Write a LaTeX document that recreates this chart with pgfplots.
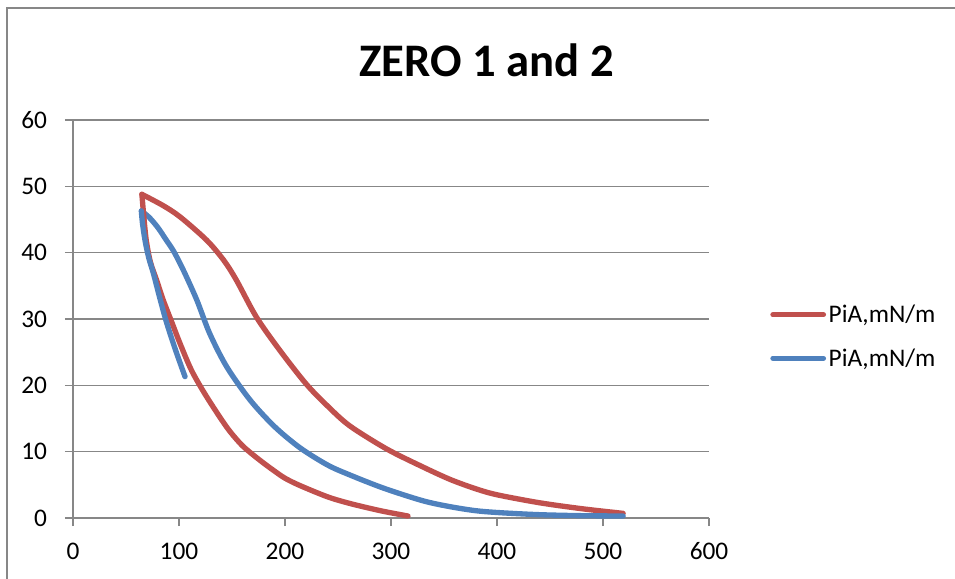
\documentclass[border=0pt]{standalone}
\usepackage{pgfplots}
\pgfplotsset{compat=1.18}
\usepackage{fontspec}
\setmainfont{Carlito}
\definecolor{cred}{HTML}{C0504D}
\definecolor{cblue}{HTML}{4F81BD}
\definecolor{cgrid}{HTML}{878787}
\begin{document}
\begin{tikzpicture}
\path[use as bounding box] (0,0) rectangle (716.25pt,433.5pt);
\draw[cgrid, line width=1.6pt] (5.25pt,-10pt) -- (5.25pt,427.5pt) -- (730pt,427.5pt);
\node[font=\fontsize{35}{40}\selectfont\bfseries] at (365pt,388pt) {ZERO 1 and 2};
\begin{axis}[
  at={(54.75pt,45pt)}, anchor=south west,
  width=477pt, height=298.5pt, scale only axis,
  xmin=0, xmax=600, ymin=0, ymax=60,
  xtick={0,100,...,600}, ytick={0,10,...,60},
  axis lines*=left,
  axis line style={cgrid, line width=1.1pt},
  ymajorgrids, grid style={cgrid, line width=1.1pt},
  tick style={cgrid, line width=1.1pt},
  tick align=outside, major tick length=6pt,
  ticklabel style={font=\fontsize{19}{23}\selectfont},
  xticklabel style={yshift=-9pt},
  yticklabel style={xshift=-10pt},
  /pgf/number format/assume math mode=true,
  legend style={at={(1.096,0.456)}, anchor=west, draw=none, fill=none,
    font=\fontsize{19}{23}\selectfont, row sep=14pt, inner sep=0pt},
  legend cell align=left,
  legend image code/.code={\draw[#1, line width=3.8pt, line cap=round] (0pt,0pt) -- (38pt,0pt);},
  every axis plot/.append style={line width=4pt, line cap=round, line join=round},
]
\addplot[cred, smooth, tension=0.5] coordinates {
(519,0.7) (480,1.4) (440,2.3) (400,3.5) (380,4.4) (356,5.8) (330,7.7)
(296,10.4) (261,13.9) (240,16.9) (220,20.2) (195,25.3) (173,30.3) (154,35.9) (142,38.9)
(126,41.9) (101,45.4) (85,47.1) (65,48.8)
};
\addlegendentry{PiA,mN/m}
\addplot[cblue, smooth, tension=0.5] coordinates {
(519,0.3) (480,0.35) (440,0.5) (403,0.8) (380,1.1) (356,1.7) (330,2.6) (293,4.5)
(261,6.5) (240,8.0) (214,10.6) (190,13.8) (167,17.8) (145,22.8) (129,27.8) (116.7,32.9)
(104,37.4) (95,40.2) (88,41.9) (80,43.8) (72,45.3) (64.5,46.3)
};
\addlegendentry{PiA,mN/m}
\addplot[cred, smooth, tension=0.5, forget plot] coordinates {
(65,48.8) (66.5,46) (69,42) (73,38.6) (79,35.8) (85,32.9) (93,29.6) (101,26.3) (112,22.2) (126,18.3)
(145,13.7) (158,11.2) (167,9.9) (178,8.5) (189,7.2) (200,6.0) (214,4.9) (240,3.2)
(261,2.2) (290,1.1) (316,0.3)
};
\addplot[cblue, smooth, tension=0.5, forget plot] coordinates {
(64.5,46.3) (65.5,44.5) (68,41.8) (71.5,39.2) (75.8,36.9) (82,33.1) (88.4,29.4) (97,25.2) (105.7,21.3)
};
\end{axis}
\end{tikzpicture}
\end{document}
